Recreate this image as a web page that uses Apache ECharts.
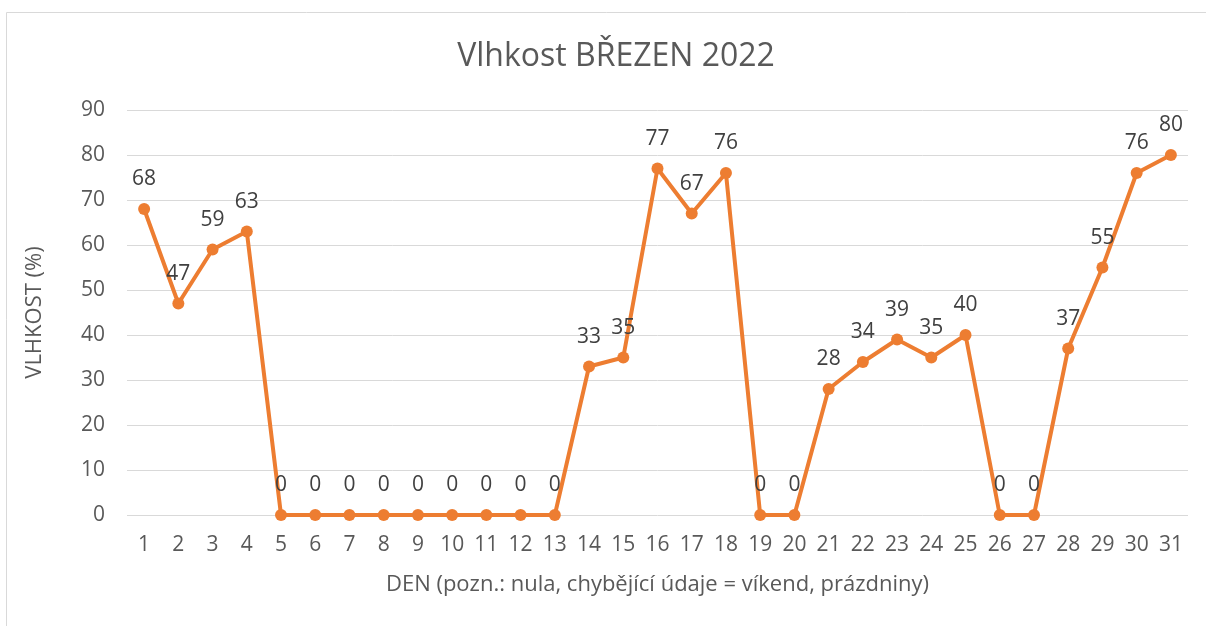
<!DOCTYPE html>
<html>
<head>
<meta charset="utf-8">
<script src="https://cdn.jsdelivr.net/npm/echarts@6/dist/echarts.min.js"></script>
<style>
  html, body { margin: 0; padding: 0; background: #fff; }
  #chart { width: 1206px; height: 626px; }
</style>
</head>
<body>
<div id="chart"></div>
<script>
// dny v mesici
const days = ['1','2','3','4','5','6','7','8','9','10','11','12','13','14','15','16',
  '17','18','19','20','21','22','23','24','25','26','27','28','29','30','31'];
// vlhkost v %
const humidity = [68, 47, 59, 63, 0, 0, 0, 0, 0, 0, 0, 0, 0, 33, 35, 77,
  67, 76, 0, 0, 28, 34, 39, 35, 40, 0, 0, 37, 55, 76, 80];

const fontFam = '"Open Sans", "Liberation Sans", sans-serif';
const textColor = '#595959';

const chart = echarts.init(document.getElementById('chart'));
chart.setOption({
  animation: false,
  textStyle: { fontFamily: fontFam },
  graphic: [{
    type: 'rect',
    silent: true,
    shape: { x: 6.5, y: 12.5, width: 1220, height: 640 },
    style: { fill: 'none', stroke: '#d9d9d9', lineWidth: 1 }
  }],
  title: {
    text: 'Vlhkost BŘEZEN 2022',
    left: 611, top: 36, textAlign: 'center',
    textStyle: { fontSize: 32, fontWeight: 'normal', color: textColor, fontFamily: fontFam }
  },
  grid: { left: 127, right: 18, top: 110, bottom: 111 },
  xAxis: {
    type: 'category',
    data: days,
    boundaryGap: true,
    name: 'DEN (pozn.: nula, chybějící údaje = víkend, prázdniny)',
    nameLocation: 'middle',
    nameGap: 59,
    nameTextStyle: { fontSize: 22, color: textColor },
    axisLine: { show: false },
    axisTick: { show: false },
    axisLabel: { fontSize: 21, color: textColor, margin: 20, interval: 0 }
  },
  yAxis: {
    type: 'value',
    min: 0, max: 90, interval: 10,
    name: 'VLHKOST (%)',
    nameLocation: 'middle',
    nameGap: 81,
    nameRotate: 90,
    nameTextStyle: { fontSize: 22, color: textColor },
    axisLine: { show: false },
    axisTick: { show: false },
    axisLabel: { fontSize: 21, color: textColor, margin: 22 },
    splitLine: { lineStyle: { color: '#d9d9d9', width: 1 } }
  },
  series: [{
    type: 'line',
    data: humidity,
    symbol: 'circle',
    symbolSize: 12,
    lineStyle: { color: '#ED7D31', width: 4 },
    itemStyle: { color: '#ED7D31' },
    label: {
      show: true,
      position: 'top',
      distance: 13,
      fontSize: 21,
      color: '#404040'
    }
  }]
});
</script>
</body>
</html>
